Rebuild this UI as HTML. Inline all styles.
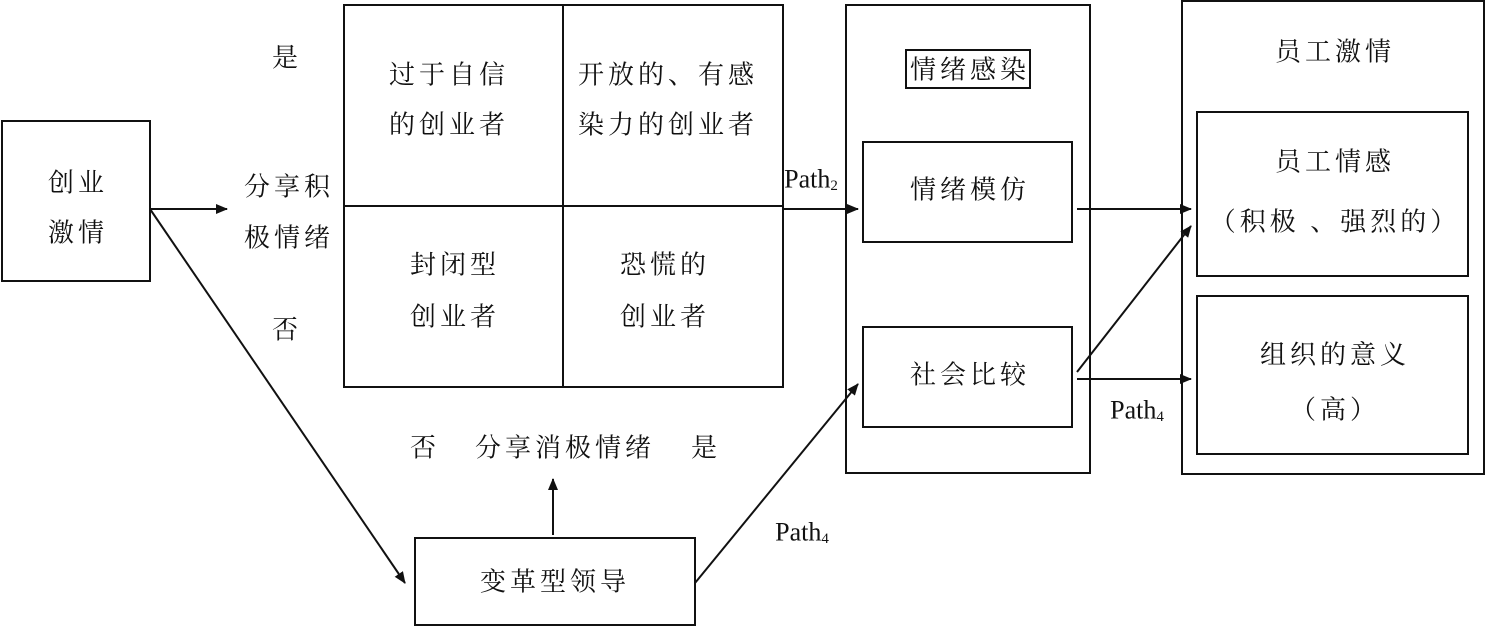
<!DOCTYPE html>
<html><head><meta charset="utf-8"><style>
body{margin:0;background:#fff;}
svg{display:block;}
text{font-family:"Liberation Serif","Noto Serif CJK SC",serif;font-size:26px;fill:#111;text-anchor:middle;dominant-baseline:central;letter-spacing:4px;}
.p{letter-spacing:0;font-size:26px;}
</style></head><body>
<svg width="1485" height="627" viewBox="0 0 1485 627">
<defs><marker id="a" markerWidth="12" markerHeight="10" refX="11" refY="5" orient="auto" markerUnits="userSpaceOnUse"><path d="M0,0 L12,5 L0,10 z" fill="#111"/></marker></defs>
<g fill="none" stroke="#111" stroke-width="2">
<rect x="2" y="121" width="148" height="160"/>
<rect x="344" y="5" width="439" height="382"/>
<line x1="563" y1="5" x2="563" y2="387"/>
<line x1="344" y1="206" x2="783" y2="206"/>
<rect x="846" y="5" width="244" height="468"/>
<rect x="906" y="50" width="124" height="38"/>
<rect x="863" y="142" width="209" height="100"/>
<rect x="863" y="327" width="209" height="100"/>
<rect x="1182" y="1" width="302" height="473"/>
<rect x="1197" y="112" width="271" height="164"/>
<rect x="1197" y="296" width="271" height="158"/>
<rect x="415" y="538" width="280" height="87"/>
</g>
<g stroke="#111" stroke-width="2" marker-end="url(#a)">
<line x1="150" y1="209" x2="227" y2="209"/>
<line x1="783" y1="209" x2="858" y2="209"/>
<line x1="1077" y1="209" x2="1191" y2="209"/>
<line x1="1077" y1="372" x2="1191" y2="226"/>
<line x1="1077" y1="379" x2="1191" y2="379"/>
<line x1="553" y1="535" x2="553" y2="479"/>
<line x1="150" y1="209" x2="405" y2="583"/>
<line x1="695" y1="583" x2="858" y2="384"/>
</g>
<text x="78" y="183">创业</text><text x="78" y="233">激情</text>
<text x="287" y="58">是</text><text x="289" y="187">分享积</text><text x="289" y="238">极情绪</text><text x="287" y="330">否</text>
<text x="449" y="75">过于自信</text><text x="449" y="125">的创业者</text>
<text x="668" y="75">开放的、有感</text><text x="668" y="125">染力的创业者</text>
<text x="455" y="265">封闭型</text><text x="455" y="317">创业者</text>
<text x="665" y="265">恐慌的</text><text x="665" y="317">创业者</text>
<text class="p" x="811" y="179">Path<tspan font-size="15" dy="7">2</tspan></text>
<text x="970" y="70">情绪感染</text>
<text x="970" y="190">情绪模仿</text>
<text x="970" y="375">社会比较</text>
<text class="p" x="1137" y="410">Path<tspan font-size="15" dy="7">4</tspan></text>
<text x="1335" y="52">员工激情</text>
<text x="1335" y="162">员工情感</text>
<text x="1335" y="222">（积极 、强烈的）</text>
<text x="1335" y="355">组织的意义</text>
<text x="1335" y="410">（高）</text>
<text x="425" y="448">否</text><text x="565" y="448">分享消极情绪</text><text x="706" y="448">是</text>
<text x="555" y="582">变革型领导</text>
<text class="p" x="802" y="532">Path<tspan font-size="15" dy="7">4</tspan></text>
</svg>
</body></html>
